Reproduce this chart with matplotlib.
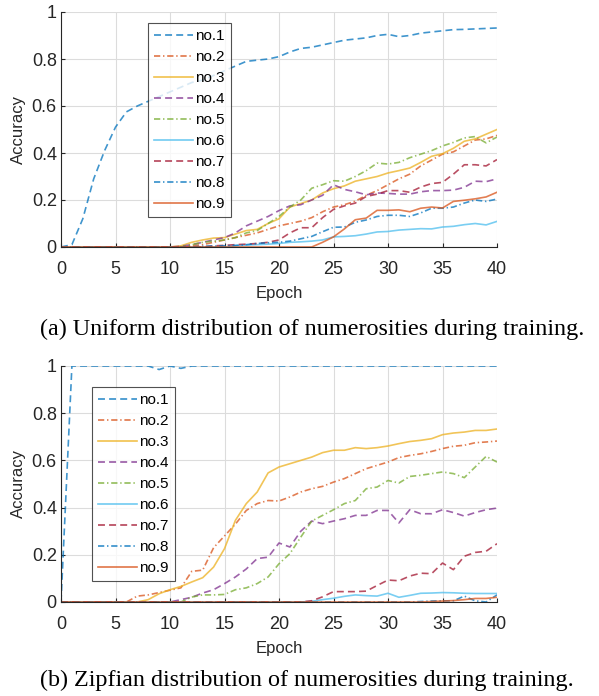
import matplotlib
matplotlib.use("Agg")
import matplotlib.pyplot as plt
import numpy as np

# Data
epochs = np.arange(0, 41)
labels = ['no.1', 'no.2', 'no.3', 'no.4', 'no.5', 'no.6', 'no.7', 'no.8', 'no.9']

# (a) uniform distribution
u1 = [0, 0.01, 0.12, 0.29, 0.41, 0.51, 0.575, 0.60, 0.62, 0.64, 0.66, 0.68, 0.70, 0.71, 0.73, 0.75,
      0.77, 0.79, 0.795, 0.80, 0.81, 0.83, 0.845, 0.85, 0.86, 0.87, 0.88, 0.885, 0.89, 0.90, 0.905,
      0.895, 0.90, 0.91, 0.915, 0.92, 0.925, 0.926, 0.928, 0.93, 0.932]
u2 = [0]*12 + [0.005, 0.01, 0.02, 0.03, 0.04, 0.05, 0.06, 0.075, 0.09, 0.10, 0.11, 0.125, 0.15, 0.17,
               0.18, 0.195, 0.22, 0.24, 0.265, 0.29, 0.31, 0.345, 0.37, 0.395, 0.405, 0.43, 0.455, 0.46, 0.475]
u3 = [0]*11 + [0.005, 0.02, 0.03, 0.038, 0.04, 0.055, 0.07, 0.075, 0.10, 0.12, 0.17, 0.185, 0.20, 0.23,
               0.248, 0.26, 0.28, 0.29, 0.30, 0.315, 0.325, 0.336, 0.36, 0.386, 0.397, 0.42, 0.45, 0.46,
               0.48, 0.50]
u4 = [0]*11 + [0.003, 0.01, 0.02, 0.03, 0.04, 0.06, 0.09, 0.11, 0.13, 0.155, 0.175, 0.18, 0.20, 0.22,
               0.265, 0.245, 0.235, 0.222, 0.23, 0.228, 0.225, 0.225, 0.235, 0.24, 0.24, 0.242, 0.254,
               0.28, 0.278, 0.29]
u5 = [0]*12 + [0.01, 0.02, 0.025, 0.03, 0.04, 0.06, 0.07, 0.10, 0.13, 0.17, 0.20, 0.25, 0.265, 0.282,
               0.28, 0.30, 0.325, 0.357, 0.353, 0.36, 0.38, 0.395, 0.41, 0.43, 0.445, 0.464, 0.47, 0.443,
               0.468]
u6 = [0]*16 + [0.005, 0.008, 0.01, 0.012, 0.015, 0.02, 0.022, 0.025, 0.03, 0.043, 0.045, 0.048, 0.055,
               0.064, 0.066, 0.072, 0.075, 0.078, 0.077, 0.085, 0.088, 0.095, 0.10, 0.094, 0.109]
u7 = [0]*14 + [0.005, 0.007, 0.01, 0.012, 0.015, 0.02, 0.03, 0.06, 0.082, 0.082, 0.125, 0.16, 0.175,
               0.187, 0.215, 0.225, 0.24, 0.24, 0.233, 0.255, 0.27, 0.275, 0.31, 0.35, 0.35, 0.345, 0.372]
u8 = [0]*13 + [0.003, 0.004, 0.005, 0.007, 0.01, 0.015, 0.018, 0.02, 0.025, 0.035, 0.045, 0.065, 0.084,
               0.085, 0.105, 0.115, 0.13, 0.135, 0.135, 0.13, 0.145, 0.165, 0.165, 0.17, 0.187, 0.2,
               0.194, 0.204]
u9 = [0]*24 + [0.02, 0.043, 0.077, 0.116, 0.123, 0.156, 0.156, 0.158, 0.15, 0.165, 0.17, 0.166, 0.194,
               0.199, 0.205, 0.213, 0.233]

# (b) zipfian distribution
z1 = [0] + [1.0]*8 + [0.985, 1.0, 0.99] + [1.0]*29
z2 = [0]*7 + [0.025, 0.03, 0.04, 0.05, 0.06, 0.13, 0.135, 0.23, 0.28, 0.33, 0.388, 0.417, 0.43, 0.428,
              0.445, 0.466, 0.48, 0.49, 0.508, 0.523, 0.544, 0.565, 0.579, 0.593, 0.612, 0.621, 0.628,
              0.638, 0.65, 0.66, 0.664, 0.675, 0.678, 0.682]
z3 = [0]*8 + [0.01, 0.035, 0.052, 0.066, 0.085, 0.103, 0.148, 0.226, 0.346, 0.417, 0.466, 0.547, 0.572,
              0.586, 0.60, 0.614, 0.633, 0.643, 0.643, 0.654, 0.65, 0.654, 0.661, 0.671, 0.68, 0.685,
              0.692, 0.709, 0.716, 0.72, 0.727, 0.727, 0.733]
z4 = [0]*11 + [0.01, 0.02, 0.038, 0.052, 0.078, 0.106, 0.14, 0.184, 0.19, 0.25, 0.233, 0.30, 0.343,
               0.332, 0.343, 0.353, 0.367, 0.367, 0.388, 0.388, 0.335, 0.391, 0.374, 0.374, 0.391, 0.379,
               0.364, 0.379, 0.391, 0.398]
z5 = [0]*12 + [0.021, 0.03, 0.03, 0.032, 0.052, 0.06, 0.078, 0.106, 0.162, 0.205, 0.275, 0.343, 0.367,
               0.391, 0.417, 0.43, 0.48, 0.487, 0.515, 0.504, 0.532, 0.537, 0.544, 0.551, 0.544, 0.527,
               0.572, 0.617, 0.593]
z6 = [0]*23 + [0.003, 0.01, 0.016, 0.024, 0.03, 0.027, 0.025, 0.037, 0.02, 0.028, 0.037, 0.038, 0.04,
               0.039, 0.037, 0.036, 0.036, 0.036]
z7 = [0]*23 + [0.005, 0.022, 0.044, 0.044, 0.044, 0.046, 0.07, 0.093, 0.09, 0.11, 0.122, 0.12, 0.165,
               0.137, 0.194, 0.21, 0.215, 0.247]
z8 = [0]*33 + [0.002, 0.004, 0.005, 0.005, 0.025, 0.005, 0.0, 0.03]
z9 = [0]*34 + [0.002, 0.004, 0.006, 0.01, 0.015, 0.015, 0.02]

uniform = [u1, u2, u3, u4, u5, u6, u7, u8, u9]
zipf = [z1, z2, z3, z4, z5, z6, z7, z8, z9]

# MATLAB default colour order
colors = ['#0072BD', '#D95319', '#EDB120', '#7E2F8E', '#77AC30', '#4DBEEE', '#A2142F', '#0072BD', '#D95319']
dash = (5, 3)
dashdot = (4.5, 2, 1, 2)
styles = [dash, dashdot, None, dash, dashdot, None, dash, dashdot, None]

plt.rcParams['font.family'] = ['Liberation Sans', 'DejaVu Sans']
plt.rcParams['lines.scale_dashes'] = False

fig = plt.figure(figsize=(5.99, 6.96), dpi=100)
tick_col = '#262626'


def draw(ax, series, legend_anchor):
    for s, lab, c, st in zip(series, labels, colors, styles):
        line, = ax.plot(epochs, s, color=c, lw=1.2, alpha=0.75, label=lab)
        if st is not None:
            line.set_dashes(st)
    ax.set_xlim(0, 40)
    ax.set_ylim(0, 1)
    ax.set_xticks(np.arange(0, 41, 5))
    ax.set_yticks([0, 0.2, 0.4, 0.6, 0.8, 1])
    ax.set_yticklabels(['0', '0.2', '0.4', '0.6', '0.8', '1'])
    ax.grid(True, color='#dcdcdc', lw=0.8)
    ax.set_axisbelow(True)
    for sp in ['top', 'right']:
        ax.spines[sp].set_visible(False)
    for sp in ['left', 'bottom']:
        ax.spines[sp].set_color(tick_col)
        ax.spines[sp].set_linewidth(0.8)
    ax.tick_params(direction='in', length=3, colors=tick_col, labelsize=13)
    ax.tick_params(axis='x', pad=10)
    ax.tick_params(axis='y', pad=3)
    ax.set_xlabel('Epoch', fontsize=12, color=tick_col, labelpad=6)
    ax.set_ylabel('Accuracy', fontsize=12, color=tick_col, labelpad=4)
    leg = ax.legend(loc='upper left', bbox_to_anchor=legend_anchor, bbox_transform=fig.transFigure,
                    fontsize=11, frameon=True, fancybox=False, handlelength=2.55, handletextpad=0.15,
                    labelspacing=0.46, borderpad=0.4, borderaxespad=0)
    leg.get_frame().set_edgecolor(tick_col)
    leg.get_frame().set_linewidth(0.8)
    for h in leg.get_lines():
        h.set_alpha(0.8)


ax1 = fig.add_axes([61/599, 1 - 247/696, 436/599, 235/696])
draw(ax1, uniform, (148/599, 1 - 23/696))
ax2 = fig.add_axes([61/599, 1 - 602/696, 436/599, 236/696])
draw(ax2, zipf, (92/599, 1 - 387/696))

fig.text(40/599, 1 - 329/696, '(a) Uniform distribution of numerosities during training.',
         family='Liberation Serif', fontsize=17.4, ha='left', va='center')
fig.text(40/599, 1 - 680/696, '(b) Zipfian distribution of numerosities during training.',
         family='Liberation Serif', fontsize=17.4, ha='left', va='center')

fig.savefig('out.png', dpi=100)
